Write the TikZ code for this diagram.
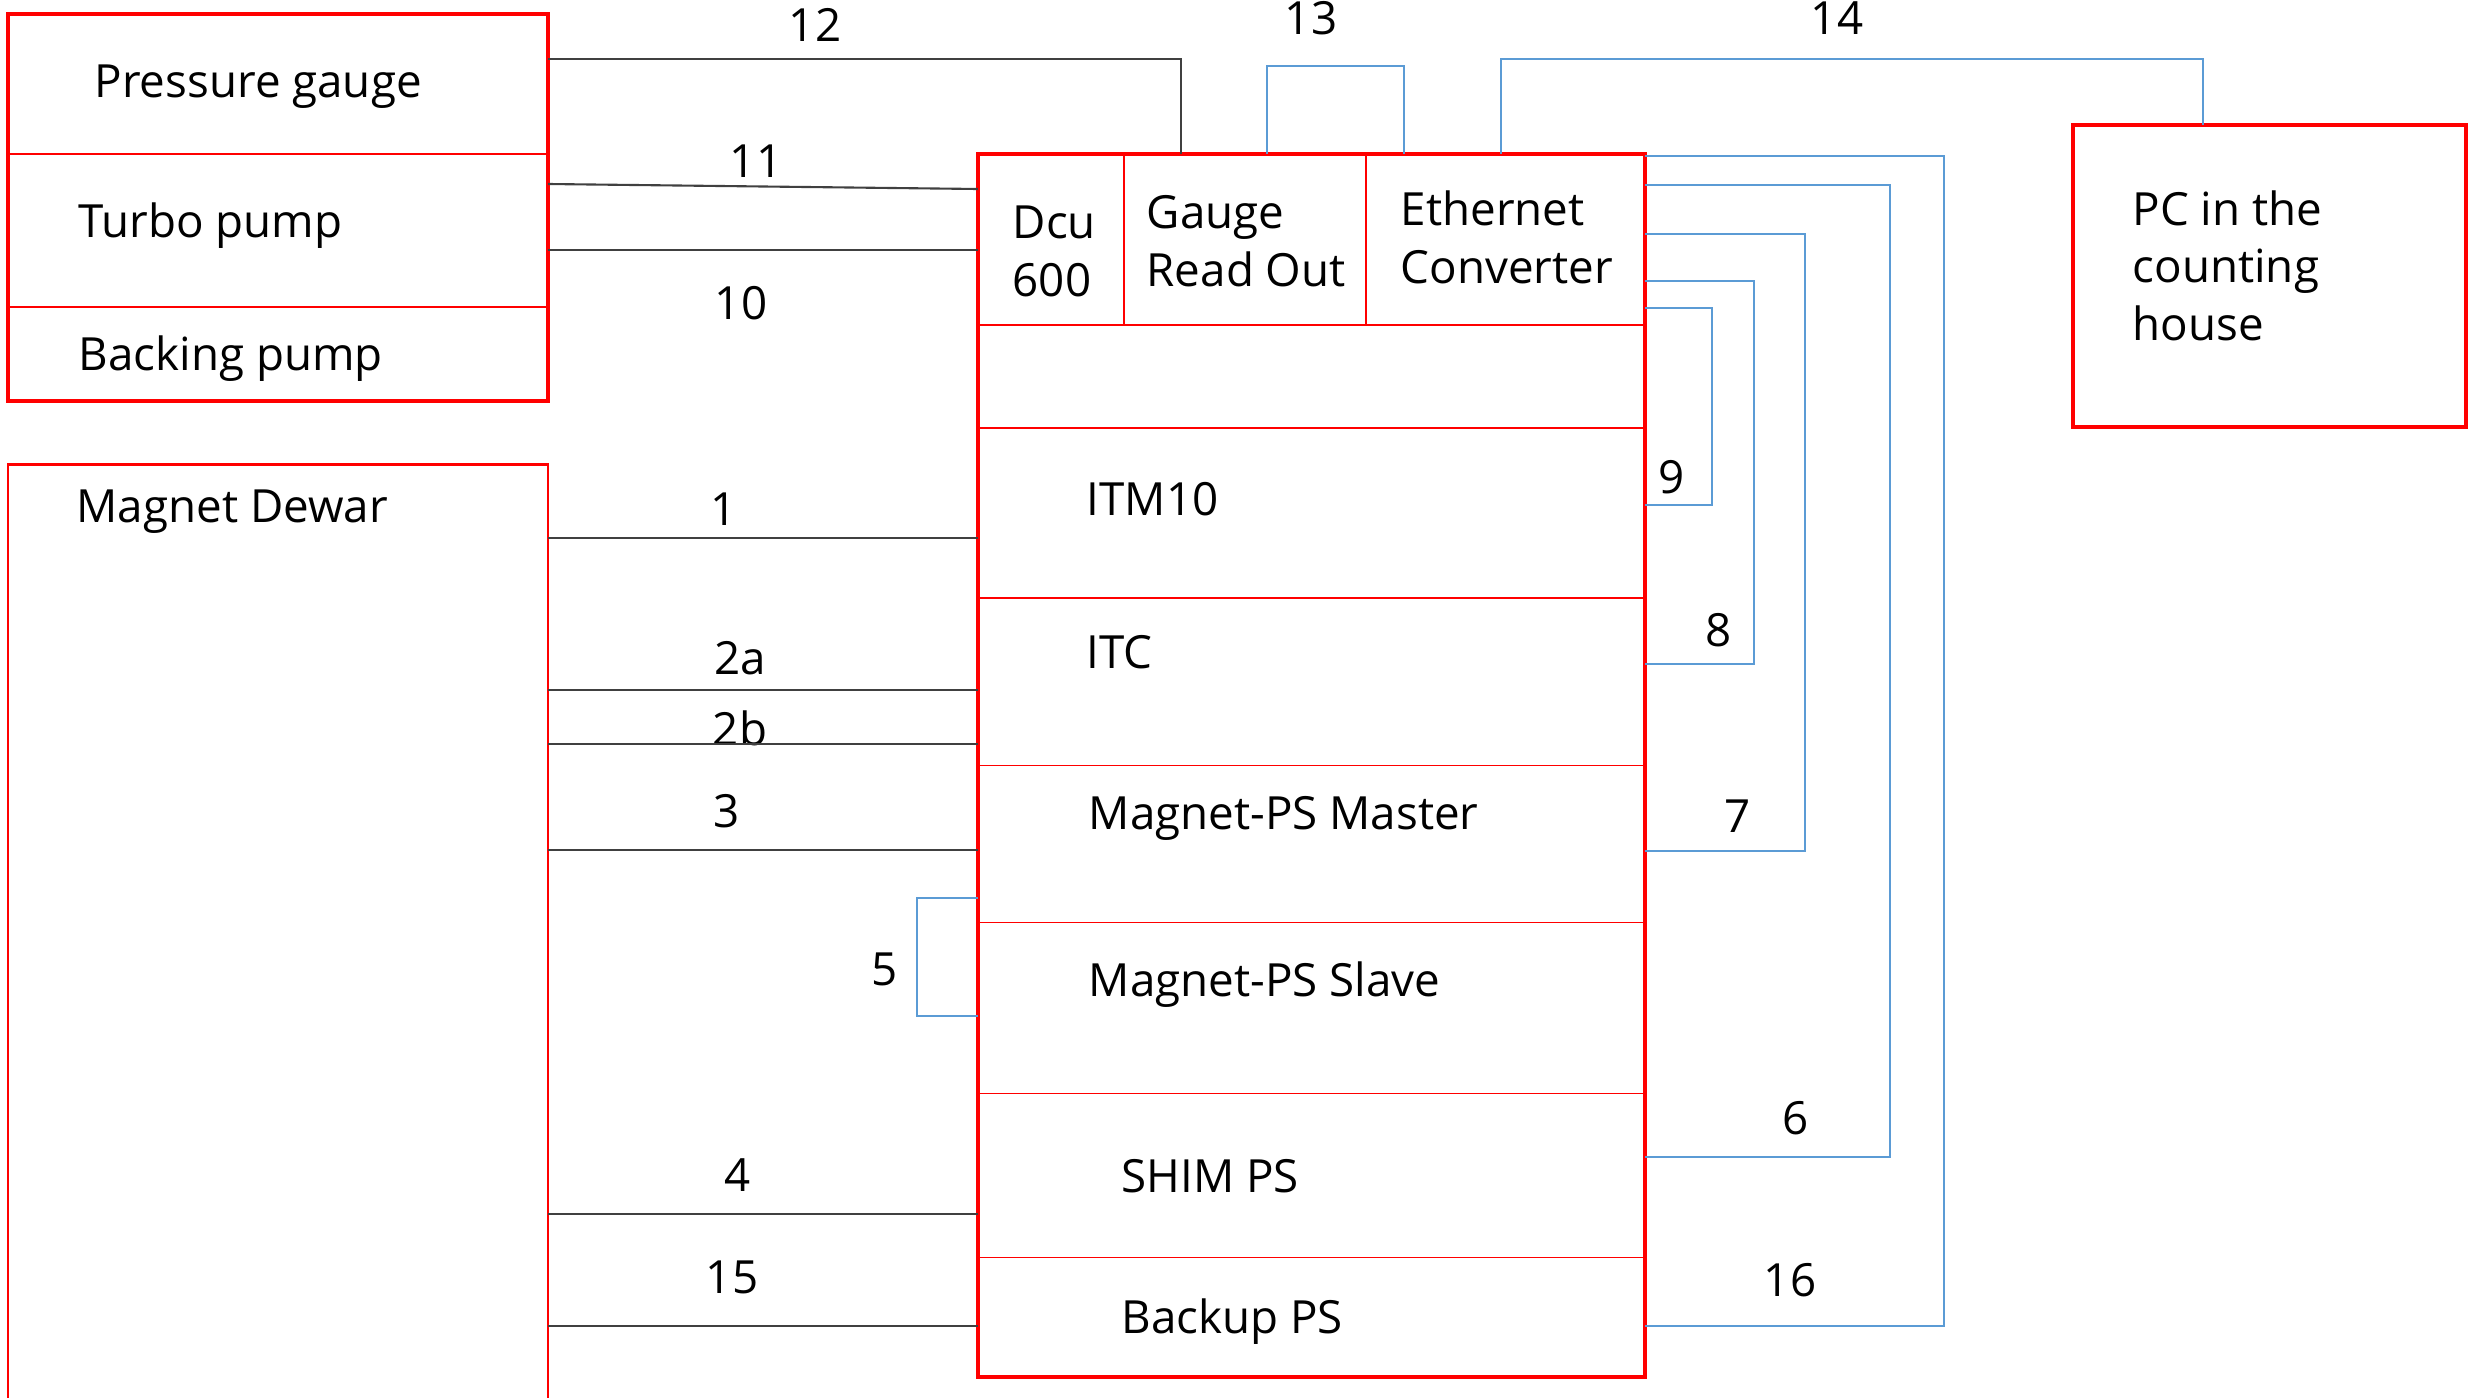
\documentclass[tikz,border=0pt]{standalone}
\usepackage{fontspec}
\setmainfont{Open Sans}
\usetikzlibrary{positioning}
\definecolor{boxred}{RGB}{255,0,0}
\definecolor{busblue}{RGB}{91,155,213}

\begin{document}
\begin{tikzpicture}[
  x=0.01cm, y=-0.01cm,
  font=\fontsize{13}{16.3}\selectfont,
  cell/.style={draw=boxred, line width=0.45pt, inner sep=0pt, outer sep=0pt},
  frame/.style={draw=boxred, line width=1.1pt},
  txt/.style={anchor=base west, inner sep=0pt, align=left},
  num/.style={inner sep=0pt},
  wire/.style={draw=black!75, line width=0.6pt},
  bus/.style={draw=busblue, line width=0.55pt},
]
\useasboundingbox (0,0) rectangle (2483,1397);
\clip (0,0) rectangle (2483,1397);

\node[cell, minimum width=5.40cm, minimum height=1.40cm] (pg) at (278,84) {};
\node[cell, minimum width=5.40cm, minimum height=1.53cm, below=0pt of pg] (tp) {};
\node[cell, minimum width=5.40cm, minimum height=0.94cm, below=0pt of tp] (bp) {};
\draw[frame] (pg.north west) rectangle (bp.south east);
\node[cell, line width=0.7pt, minimum width=5.40cm, minimum height=9.55cm] (dewar) at (278,942.5) {};

\node[cell, minimum width=1.46cm, minimum height=1.71cm] (dcu) at (1051,239.5) {};
\node[cell, minimum width=2.42cm, minimum height=1.71cm, right=0pt of dcu] (gro) {};
\node[cell, minimum width=2.79cm, minimum height=1.71cm, right=0pt of gro] (eth) {};
\node[cell, minimum width=6.67cm, minimum height=1.03cm, anchor=north west] (spare) at (dcu.south west) {};
\node[cell, minimum width=6.67cm, minimum height=1.70cm, below=0pt of spare] (itm) {};
\node[cell, minimum width=6.67cm, minimum height=1.67cm, below=0pt of itm] (itc) {};
\node[cell, minimum width=6.67cm, minimum height=1.57cm, below=0pt of itc] (mst) {};
\node[cell, minimum width=6.67cm, minimum height=1.71cm, below=0pt of mst] (slv) {};
\node[cell, minimum width=6.67cm, minimum height=1.64cm, below=0pt of slv] (shim) {};
\node[cell, minimum width=6.67cm, minimum height=1.19cm, below=0pt of shim] (bkp) {};
\draw[frame] (dcu.north west) rectangle (bkp.south east);

\node[cell, line width=1.1pt, minimum width=3.93cm, minimum height=3.02cm] (pc) at (2269.5,276) {};

\node[txt] (tpg) at (94,98) {Pressure gauge};
\node[txt] (ttp) at (78,237) {Turbo pump};
\node[txt] (tbp) at (78,370) {Backing pump};
\node[txt] (tdewar) at (76,522) {Magnet Dewar};
\node[txt] (tdcu) at (1012,296) {Dcu\\600};
\node[txt] (tgro) at (1146,286) {Gauge\\Read Out};
\node[txt] (teth) at (1400,283) {Ethernet\\Converter};
\node[txt] (tpc) at (2132,340) {PC in the\\counting\\house};
\node[txt] (titm) at (1086,515) {ITM10};
\node[txt] (titc) at (1086,668) {ITC};
\node[txt] (tmst) at (1088,829) {Magnet-PS Master};
\node[txt] (tslv) at (1088,996) {Magnet-PS Slave};
\node[txt] (tshim) at (1121,1192) {SHIM PS};
\node[txt] (tbkp) at (1121,1333) {Backup PS};

\node[num] (n12) at (815,25) {12};
\node[num] (n11) at (756,161) {11};
\node[num] (n10) at (741,303) {10};
\node[num] (n13) at (1311,18) {13};
\node[num] (n14) at (1837,18) {14};
\node[num] (n1) at (724,509) {1};
\node[num] (n2a) at (740,658) {2a};
\node[num] (n2b) at (740,728) {2b};
\node[num] (n3) at (727,811) {3};
\node[num] (n5) at (885,969) {5};
\node[num] (n4) at (738,1175) {4};
\node[num] (n15) at (732,1277) {15};
\node[num] (n9) at (1672,477) {9};
\node[num] (n8) at (1719,630) {8};
\node[num] (n7) at (1738,816) {7};
\node[num] (n6) at (1796,1118) {6};
\node[num] (n16) at (1790,1280) {16};

\draw[wire] (pg.east |- 0,59) -| (gro.north -| 1181,0);
\draw[wire] (tp.east |- 0,184) -- (dcu.west |- 0,189);
\draw[wire] (tp.east |- 0,250) -- (dcu.west |- 0,250);
\draw[wire] (dewar.east |- 0,538) -- (itm.west |- 0,538);
\draw[wire] (dewar.east |- 0,690) -- (itc.west |- 0,690);
\draw[wire] (dewar.east |- 0,744) -- (itc.west |- 0,744);
\draw[wire] (dewar.east |- 0,850) -- (mst.west |- 0,850);
\draw[wire] (dewar.east |- 0,1214) -- (shim.west |- 0,1214);
\draw[wire] (dewar.east |- 0,1326) -- (bkp.west |- 0,1326);

\draw[bus] (mst.west |- 0,898) -- ++(-61,0) |- (slv.west |- 0,1016);
\draw[bus] (gro.north -| 1267,0) -- ++(0,-88) -| (eth.north -| 1404,0);
\draw[bus] (eth.north -| 1501,0) -- ++(0,-95) -| (pc.north -| 2203,0);
\draw[bus] (eth.east |- 0,156) -- ++(299,0) |- (bkp.east |- 0,1326);
\draw[bus] (eth.east |- 0,185) -- ++(245,0) |- (shim.east |- 0,1157);
\draw[bus] (eth.east |- 0,234) -- ++(160,0) |- (mst.east |- 0,851);
\draw[bus] (eth.east |- 0,281) -- ++(109,0) |- (itc.east |- 0,664);
\draw[bus] (eth.east |- 0,308) -- ++(67,0) |- (itm.east |- 0,505);
\end{tikzpicture}
\end{document}
